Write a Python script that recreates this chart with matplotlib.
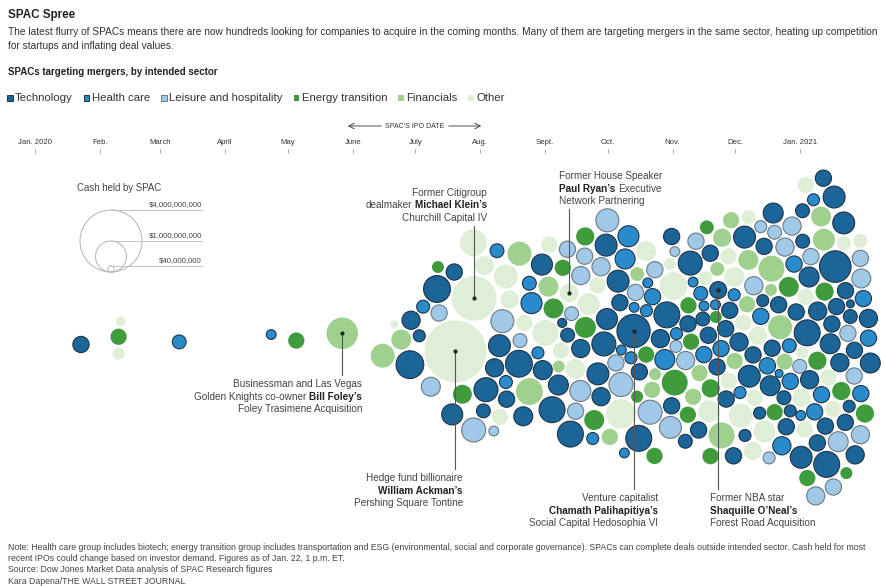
import numpy as np
import matplotlib
matplotlib.use('Agg')
import matplotlib.pyplot as plt
import matplotlib.dates as mdates
from matplotlib.patches import Circle, Rectangle

plt.rcParams['font.family'] = ['Liberation Sans Narrow', 'Liberation Sans', 'DejaVu Sans']

title = 'SPAC Spree'
subtitle = ['The latest flurry of SPACs means there are now hundreds looking for companies to acquire in the coming months. '
            'Many of them are targeting mergers in the same sector, heating up competition',
            'for startups and inflating deal values.']
chart_label = 'SPACs targeting mergers, by intended sector'
notes = ['Note: Health care group includes biotech; energy transition group includes transportation and ESG (environmental, '
         'social and corporate governance). SPACs can complete deals outside intended sector. Cash held for most',
         'recent IPOs could change based on investor demand. Figures as of Jan. 22, 1 p.m. ET.',
         'Source: Dow Jones Market Data analysis of SPAC Research figures',
         'Kara Dapena/THE WALL STREET JOURNAL']

sector_codes = ['T', 'H', 'L', 'E', 'F', 'O']
sector_names = ['Technology', 'Health care', 'Leisure and hospitality', 'Energy transition', 'Financials', 'Other']
sector_fill = ['#1b6598', '#2a8bcc', '#a0c9e7', '#3f9b3c', '#9fd08e', '#dfeed7']
sector_edge = ['#1f3447', '#1f3447', '#6c7a84', 'none', 'none', 'none']

month_ticks = ['2020-01-01', '2020-02-01', '2020-03-01', '2020-04-01', '2020-05-01', '2020-06-01', '2020-07-01',
               '2020-08-01', '2020-09-01', '2020-10-01', '2020-11-01', '2020-12-01', '2021-01-01']
month_labels = ['Jan. 2020', 'Feb.', 'March', 'April', 'May', 'June', 'July', 'Aug.', 'Sept.', 'Oct.', 'Nov.',
                'Dec.', 'Jan. 2021']

legend_cash = [4000, 1000, 40]
legend_cash_labels = ['$4,000,000,000', '$1,000,000,000', '$40,000,000']

# one entry per SPAC: IPO date, cash held ($ millions), sector code
ipo_date = [
    # Jan.-May 2020
    '2020-01-23', '2020-02-10', '2020-02-10', '2020-02-11', '2020-03-10', '2020-04-23', '2020-05-05', '2020-05-27',
    # June
    '2020-06-16', '2020-06-21', '2020-06-25', '2020-06-29', '2020-06-30',
    # July
    '2020-07-04', '2020-07-07', '2020-07-09', '2020-07-12', '2020-07-12', '2020-07-12', '2020-07-19', '2020-07-19',
    '2020-07-22', '2020-07-23', '2020-07-30', '2020-07-30', '2020-07-30',
    # Aug.
    '2020-08-03', '2020-08-03', '2020-08-06', '2020-08-06', '2020-08-07', '2020-08-08', '2020-08-09', '2020-08-10',
    '2020-08-10', '2020-08-10', '2020-08-13', '2020-08-16', '2020-08-16', '2020-08-18', '2020-08-19', '2020-08-20',
    '2020-08-22', '2020-08-23', '2020-08-24', '2020-08-28', '2020-08-29', '2020-08-30', '2020-08-31',
    # Sept.
    '2020-09-02', '2020-09-04', '2020-09-04', '2020-09-05', '2020-09-06', '2020-09-06', '2020-09-07', '2020-09-07',
    '2020-09-07', '2020-09-10', '2020-09-11', '2020-09-13', '2020-09-14', '2020-09-14', '2020-09-16', '2020-09-16',
    '2020-09-15', '2020-09-17', '2020-09-18', '2020-09-20', '2020-09-21', '2020-09-21', '2020-09-22', '2020-09-24',
    '2020-09-24', '2020-09-25', '2020-09-26', '2020-09-27', '2020-09-28', '2020-09-28', '2020-09-28', '2020-09-30',
    # Oct.
    '2020-10-01', '2020-10-01', '2020-10-03', '2020-10-03', '2020-10-05', '2020-10-06', '2020-10-06', '2020-10-07',
    '2020-10-09', '2020-10-09', '2020-10-09', '2020-10-10', '2020-10-10', '2020-10-09', '2020-10-14', '2020-10-14',
    '2020-10-15', '2020-10-16', '2020-10-16', '2020-10-16', '2020-10-16', '2020-10-19', '2020-10-19', '2020-10-21',
    '2020-10-22', '2020-10-22', '2020-10-23', '2020-10-23', '2020-10-23', '2020-10-23', '2020-10-24', '2020-10-25',
    '2020-10-30', '2020-10-30', '2020-10-30', '2020-10-30', '2020-10-30',
    # Nov.
    '2020-11-01', '2020-11-01', '2020-11-02', '2020-11-03', '2020-11-06', '2020-11-06', '2020-11-06', '2020-11-08',
    '2020-11-10', '2020-11-10', '2020-11-10', '2020-11-10', '2020-11-11', '2020-11-11', '2020-11-12', '2020-11-15',
    '2020-11-15', '2020-11-16', '2020-11-16', '2020-11-18', '2020-11-18', '2020-11-19', '2020-11-19', '2020-11-20',
    '2020-11-20', '2020-11-20', '2020-11-20', '2020-11-20', '2020-11-23', '2020-11-23', '2020-11-24', '2020-11-24',
    '2020-11-24', '2020-11-25', '2020-11-26', '2020-11-26', '2020-11-27', '2020-11-28', '2020-11-28', '2020-11-28',
    '2020-11-29', '2020-11-30', '2020-11-30', '2020-11-30', '2020-11-30',
    # Dec.
    '2020-12-01', '2020-12-01', '2020-12-04', '2020-12-04', '2020-12-04', '2020-12-04', '2020-12-05', '2020-12-07',
    '2020-12-08', '2020-12-09', '2020-12-09', '2020-12-09', '2020-12-10', '2020-12-10', '2020-12-10', '2020-12-12',
    '2020-12-12', '2020-12-12', '2020-12-13', '2020-12-13', '2020-12-14', '2020-12-16', '2020-12-16', '2020-12-17',
    '2020-12-17', '2020-12-18', '2020-12-18', '2020-12-18', '2020-12-19', '2020-12-20', '2020-12-20', '2020-12-21',
    '2020-12-22', '2020-12-22', '2020-12-23', '2020-12-23', '2020-12-23', '2020-12-26', '2020-12-27', '2020-12-27',
    '2020-12-28', '2020-12-28', '2020-12-29', '2020-12-30', '2020-12-31', '2020-12-31',
    # Jan. 2021
    '2021-01-04', '2021-01-05', '2021-01-05', '2021-01-05', '2021-01-05', '2021-01-06', '2021-01-06', '2021-01-06',
    '2021-01-07', '2021-01-07', '2021-01-07', '2021-01-07', '2021-01-07', '2021-01-07', '2021-01-07', '2021-01-08',
    '2021-01-08', '2021-01-08', '2021-01-09', '2021-01-09', '2021-01-09', '2021-01-09', '2021-01-10', '2021-01-11',
    '2021-01-11', '2021-01-11', '2021-01-11', '2021-01-12', '2021-01-12', '2021-01-12', '2021-01-13', '2021-01-13',
    '2021-01-13', '2021-01-14', '2021-01-14', '2021-01-14', '2021-01-14', '2021-01-15', '2021-01-15', '2021-01-15',
    '2021-01-16', '2021-01-16', '2021-01-17', '2021-01-17', '2021-01-17', '2021-01-18', '2021-01-18', '2021-01-18',
    '2021-01-19', '2021-01-19', '2021-01-19', '2021-01-20', '2021-01-21', '2021-01-21', '2021-01-21', '2021-01-22',
    '2021-01-22', '2021-01-22', '2021-01-22', '2021-01-22', '2021-01-22', '2021-01-22',
]

cash_m = [
    275, 275, 150, 100, 200, 100, 275, 1035,
    600, 65, 414, 800, 345,
    150, 175, 375, 750, 275, 150, 460, 275, 4000, 375, 2070, 600, 750,
    200, 375, 600, 200, 345, 100, 500, 275, 550, 175, 600, 275, 345, 750, 600, 200, 375, 275, 750, 460, 375, 200, 150,
    460, 700, 275, 85, 700, 414, 414, 414, 150, 275, 275, 275, 200, 700, 200, 275, 360, 414, 345, 460, 275, 345,
    345, 460, 150, 500, 414, 275, 345, 345, 500, 500,
    600, 550, 460, 275, 275, 920, 500, 275, 414, 600, 460, 100, 100, 1150, 700, 100, 150, 275, 275, 200, 150, 414,
    275, 275, 150, 600, 275, 275, 100, 150, 275, 345, 150, 414, 500, 700, 275,
    800, 700, 275, 150, 100, 150, 200, 275, 275, 275, 275, 100, 345, 600, 275, 275, 200, 275, 200, 500, 100, 275,
    200, 275, 275, 275, 200, 100, 275, 150, 345, 300, 275, 200, 275, 345, 275, 275, 275, 700, 150, 275, 414, 275, 275,
    345, 275, 275, 150, 275, 600, 275, 150, 414, 500, 500, 275, 200, 345, 345, 275, 150, 345, 275, 275, 275, 150,
    275, 150, 150, 500, 150, 275, 700, 414, 200, 65, 414, 275, 345, 600, 200, 275, 275, 414, 275, 345, 200, 345,
    275, 150,
    275, 500, 275, 200, 200, 150, 275, 345, 275, 700, 275, 414, 275, 275, 345, 200, 100, 150, 345, 345, 345, 275,
    345, 275, 500, 275, 414, 414, 275, 275, 700, 275, 275, 1035, 275, 200, 345, 500, 345, 275, 200, 414, 275, 275,
    275, 150, 200, 275, 500, 275, 150, 65, 345, 345, 345, 275, 275, 375, 414, 275, 275, 345,
]

sector = list(
    'TEOOHHEF'
    'FOFTT'
    'THLTLETTOEOLO'
    'TOTHTLTOLHOTOTFLTOFHTHH'
    'TOOTTETFFEOLTTLLOOLLLTEEHOEOTLTT'
    'TLTFTOTLHLHHHTTHELTFHOEEHLHFHFLTOHLTT'
    'OETLLHTTEEFHLTELTTHOHFOHTTEHEEETTFHFTTTFHTOOO'
    'TFFTOOFHFTTTOOOHTLOTHLTLTOFEFTLHTFHFTTTEHLHLTT'
    'OTHLTOOTETTTOLOTHHELTHEHFOFTTTTTTTOOETTLTLLTTTOLTTETLTEHHLTLHT'
)

# annotated SPACs: (IPO date, cash, label lines, alignment, text x, first line y)
annotations = [
    ('2020-05-27', 1035, [[('Businessman and Las Vegas', False)],
                          [('Golden Knights co-owner', False), ('Bill Foley\u2019s', True)],
                          [('Foley Trasimene Acquisition', False)]], 'right', 362, 384),
    ('2020-07-30', 2070, [[('Former Citigroup', False)],
                          [('dealmaker', False), ('Michael Klein\u2019s', True)],
                          [('Churchill Capital IV', False)]], 'right', 487, 193),
    ('2020-09-15', 360, [[('Former House Speaker', False)],
                         [('Paul Ryan\u2019s', True), ('Executive', False)],
                         [('Network Partnering', False)]], 'left', 559, 176),
    ('2020-07-22', 4000, [[('Hedge fund billionaire', False)],
                          [('William Ackman\u2019s', True)],
                          [('Pershing Square Tontine', False)]], 'right', 463, 478),
    ('2020-10-09', 1150, [[('Venture capitalist', False)],
                          [('Chamath Palihapitiya\u2019s', True)],
                          [('Social Capital Hedosophia VI', False)]], 'right', 658, 498),
    ('2020-11-24', 300, [[('Former NBA star', False)],
                         [('Shaquille O\u2019Neal\u2019s', True)],
                         [('Forest Road Acquisition', False)]], 'left', 710, 498),
]

assert len(ipo_date) == len(cash_m) == len(sector), (len(ipo_date), len(cash_m), len(sector))

W, H = 885, 586
PPD = 765 / 366          # pixels per day
CY = 338                 # pixel row of swarm centre
R4B = 31.0               # pixel radius of a $4 billion SPAC
d0 = mdates.datestr2num('2020-01-01')

fig = plt.figure(figsize=(W / 100, H / 100), dpi=100)
fig.patch.set_facecolor('white')
ax = fig.add_axes([0, 0, 1, 1])
ax.set_xlim(d0 - 35 / PPD, d0 + (W - 35) / PPD)
ax.set_ylim(-(H - CY) / PPD, CY / PPD)
ax.axis('off')

# ---- swarm layout: x pulled to IPO date, y pulled to centre, circles kept apart
dates = mdates.datestr2num(ipo_date)
cash = np.array(cash_m, float)
rad = R4B / PPD * np.sqrt(cash / 4000)
gap = 2.6 / PPD
n = len(dates)
x = dates.copy()
idx = np.arange(n)
y = (((idx * 17) % 31) - 15) * 0.8
rr = rad[:, None] + rad[None, :] + gap
wgt = rad[None, :] ** 2 / (rad[:, None] ** 2 + rad[None, :] ** 2)


def collide(x, y, f=0.5):
    dx = x[:, None] - x[None, :]
    dy = y[:, None] - y[None, :]
    dist = np.hypot(dx, dy) + 1e-9
    over = np.clip(rr - dist, 0, None)
    np.fill_diagonal(over, 0)
    push = over * wgt / dist * f
    return x + (push * dx).sum(1), y + (push * dy).sum(1)


for it in range(450):
    x += (dates - x) * 0.2
    y += (0 - y) * 0.003
    for k in range(2):
        x, y = collide(x, y)
for it in range(80):
    x, y = collide(x, y)

for i in range(n):
    s = sector_codes.index(sector[i])
    ax.add_patch(Circle((x[i], y[i]), rad[i], facecolor=sector_fill[s], edgecolor=sector_edge[s],
                        lw=0.8 if s < 3 else 0, zorder=2))

# ---- month axis
tax = fig.add_axes([0, 1 - 153 / H, 1, 0.0001])
tax.set_xlim(ax.get_xlim())
tax.xaxis.tick_top()
tax.set_xticks(mdates.datestr2num(month_ticks), month_labels)
tax.tick_params(axis='x', length=3, width=0.6, color='#999999', labelsize=5.6, labelcolor='#333333', pad=2)
tax.set_yticks([])
for sp in tax.spines.values():
    sp.set_visible(False)
tax.patch.set_alpha(0)

# ---- overlay in pixel units for text
ov = fig.add_axes([0, 0, 1, 1])
ov.set_xlim(0, W)
ov.set_ylim(H, 0)
ov.axis('off')
ov.patch.set_alpha(0)
renderer = fig.canvas.get_renderer()


def fit(x, y, s, target, weight='normal', ha='left', color='#333333', base=8.0):
    t = ov.text(x, y, s, fontsize=base, fontweight=weight, ha=ha, va='center', color=color)
    w = t.get_window_extent(renderer).width
    size = base * target / w
    t.set_fontsize(size)
    return size


def text_w(s, size, weight='normal'):
    t = ov.text(0, 0, s, fontsize=size, fontweight=weight)
    w = t.get_window_extent(renderer).width
    t.remove()
    return w


def rich(x, y, parts, ha, size):
    objs, widths = [], []
    for s, bold in parts:
        t = ov.text(0, y, s, fontsize=size, fontweight='bold' if bold else 'normal',
                    color='#222222' if bold else '#444444', ha='left', va='center')
        objs.append(t)
        widths.append(t.get_window_extent(renderer).width)
    sp = text_w('x x', size) - text_w('xx', size)
    total = sum(widths) + sp * (len(parts) - 1)
    start = x - total if ha == 'right' else x
    for t, w in zip(objs, widths):
        t.set_x(start)
        start += w + sp


fit(8, 15, title, 67, weight='bold', color='#222222', base=10)
sub_size = fit(8, 32, subtitle[0], 874)
ov.text(8, 46, subtitle[1], fontsize=sub_size, va='center', color='#333333')
fit(8, 72, chart_label, 210, weight='bold', color='#222222')

# sector legend, laid out left to right
leg_size = 8 * 58 / text_w('Technology', 8)
lx = 7
for i, name in enumerate(sector_names):
    ov.add_patch(Rectangle((lx, 95.2), 5.5, 5.5, facecolor=sector_fill[i], edgecolor=sector_edge[i],
                           lw=0.7 if i < 3 else 0))
    ov.text(lx + 8, 98, name, fontsize=leg_size, va='center', color='#333333')
    lx += 8 + text_w(name, leg_size) + 11

# IPO date arrow label
ov.text(415, 126, 'SPAC\u2019S IPO DATE', fontsize=5, ha='center', va='center', color='#333333')
ov.annotate('', xy=(345, 126), xytext=(384, 126), arrowprops=dict(arrowstyle='->', lw=0.6, color='#333333'))
ov.annotate('', xy=(484, 126), xytext=(446, 126), arrowprops=dict(arrowstyle='->', lw=0.6, color='#333333'))

# cash legend
fit(77, 188, 'Cash held by SPAC', 85, color='#444444')
bottom = 272
for c, lab in zip(legend_cash, legend_cash_labels):
    r = R4B * np.sqrt(c / 4000)
    ov.add_patch(Circle((111, bottom - r), r, facecolor='none', edgecolor='#bbbbbb', lw=0.8))
    ov.plot([111, 202], [bottom - 2 * r, bottom - 2 * r], color='#bbbbbb', lw=0.6)
    ov.text(202, bottom - 2 * r - 2, lab, fontsize=5.6, ha='right', va='bottom', color='#444444')

# annotations
ann_size = 8 * 129 / text_w('Businessman and Las Vegas', 8)
for date, c, lines, ha, tx, ty in annotations:
    i = [k for k in range(n) if ipo_date[k] == date and cash_m[k] == c][0]
    for j, parts in enumerate(lines):
        rich(tx, ty + j * 12.5, parts, ha, ann_size)
    if ty > CY:
        end = ty - 9
    else:
        end = ty + 2 * 12.5 + 8
    ax.plot([x[i], x[i]], [y[i], (CY - end) / PPD], color='#555555', lw=0.8, zorder=4)
    ax.plot([x[i]], [y[i]], 'o', color='#222222', ms=2, zorder=5)

# notes
note_size = fit(8, 547, notes[0], 872, color='#444444')
for j, s in enumerate(notes[1:]):
    ov.text(8, 558.5 + j * 11.5, s, fontsize=note_size, va='center', color='#444444')

fig.savefig('out.png', dpi=100, facecolor='white')
